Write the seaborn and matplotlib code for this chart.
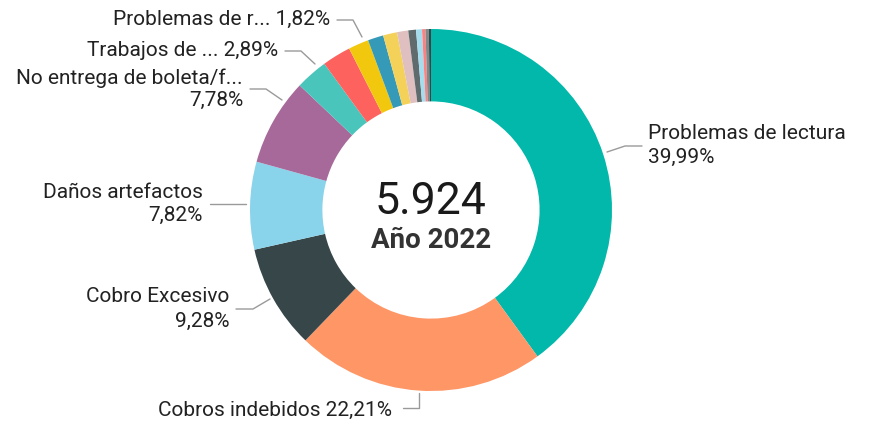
import matplotlib
matplotlib.use("Agg")
import matplotlib.pyplot as plt
import seaborn as sns

# Data
categories = ["Problemas de lectura", "Cobros indebidos", "Cobro Excesivo", "Daños artefactos",
              "No entrega de boleta/factura", "Trabajos de terceros", "Otros A", "Problemas de reparto",
              "Otros B", "Otros C", "Otros D", "Otros E", "Otros F", "Otros G", "Otros H", "Otros I"]
shares = [39.99, 22.21, 9.28, 7.82, 7.78, 2.89, 2.56, 1.82, 1.39, 1.25, 1.00, 0.69, 0.53, 0.30, 0.30, 0.19]
colors = ["#01B8AA", "#FE9666", "#374649", "#8AD4EB", "#A66999", "#4AC5BB", "#FD625E", "#F2C80F",
          "#3599B8", "#F4D25A", "#DFBFBF", "#5F6B6D", "#A4DDEE", "#FB8281", "#7F898A", "#374649"]
total = "5.924"
subtitle = "Año 2022"

sns.set_theme(style="white")
plt.rcParams['font.family'] = ['Roboto', 'DejaVu Sans']

W, H = 871, 424
CX, CY, R = 431, 210, 181

fig = plt.figure(figsize=(W / 100, H / 100), dpi=100)
ax = fig.add_axes([0, 0, 1, 1])

ax.pie(shares, colors=colors, startangle=90, counterclock=False, radius=1.0,
       wedgeprops=dict(width=0.4, edgecolor="none"))

# pie() resets the limits, so set them afterwards
ax.set_xlim(-CX / R, (W - CX) / R)
ax.set_ylim(-(H - CY) / R, CY / R)
ax.set_aspect("equal")
ax.axis("off")


def p(px, py):
    return (px - CX) / R, (CY - py) / R


ax.text(*p(431, 202), total, ha="center", va="center", fontsize=32, color="#1a1a1a")
ax.text(*p(431, 240), subtitle, ha="center", va="center", fontsize=20, fontweight="bold", color="#333333")

lc = "#9A9A9A"
tc = "#222222"
fs = 15


def leader(pts):
    xs, ys = zip(*[p(a, b) for a, b in pts])
    ax.plot(xs, ys, color=lc, lw=1.0)


# Problemas de lectura
ax.text(*p(648, 133), "Problemas de lectura", ha="left", va="center", fontsize=fs, color=tc)
ax.text(*p(648, 157), "39,99%", ha="left", va="center", fontsize=fs, color=tc)
leader([(607, 152), (625, 146), (642, 146)])

# Cobros indebidos
ax.text(*p(392, 410), "Cobros indebidos 22,21%", ha="right", va="center", fontsize=fs, color=tc)
leader([(419, 393), (419, 408), (403, 408)])

# Cobro Excesivo
ax.text(*p(229, 297), "Cobro Excesivo", ha="right", va="center", fontsize=fs, color=tc)
ax.text(*p(229, 321), "9,28%", ha="right", va="center", fontsize=fs, color=tc)
leader([(236, 309), (253, 309), (270, 299)])

# Daños artefactos
ax.text(*p(203, 192), "Daños artefactos", ha="right", va="center", fontsize=fs, color=tc)
ax.text(*p(203, 215), "7,82%", ha="right", va="center", fontsize=fs, color=tc)
leader([(210, 204), (246, 204)])

# No entrega de boleta
ax.text(*p(243, 78), "No entrega de boleta/f...", ha="right", va="center", fontsize=fs, color=tc)
ax.text(*p(243, 100), "7,78%", ha="right", va="center", fontsize=fs, color=tc)
leader([(250, 89), (266, 89), (282, 100)])

# Trabajos de ...
ax.text(*p(278, 50), "Trabajos de ... 2,89%", ha="right", va="center", fontsize=fs, color=tc)
leader([(285, 51), (301, 51), (315, 64)])

# Problemas de r...
ax.text(*p(330, 19), "Problemas de r... 1,82%", ha="right", va="center", fontsize=fs, color=tc)
leader([(337, 20), (353, 20), (362, 37)])

fig.savefig("out.png", dpi=100, facecolor="white")
